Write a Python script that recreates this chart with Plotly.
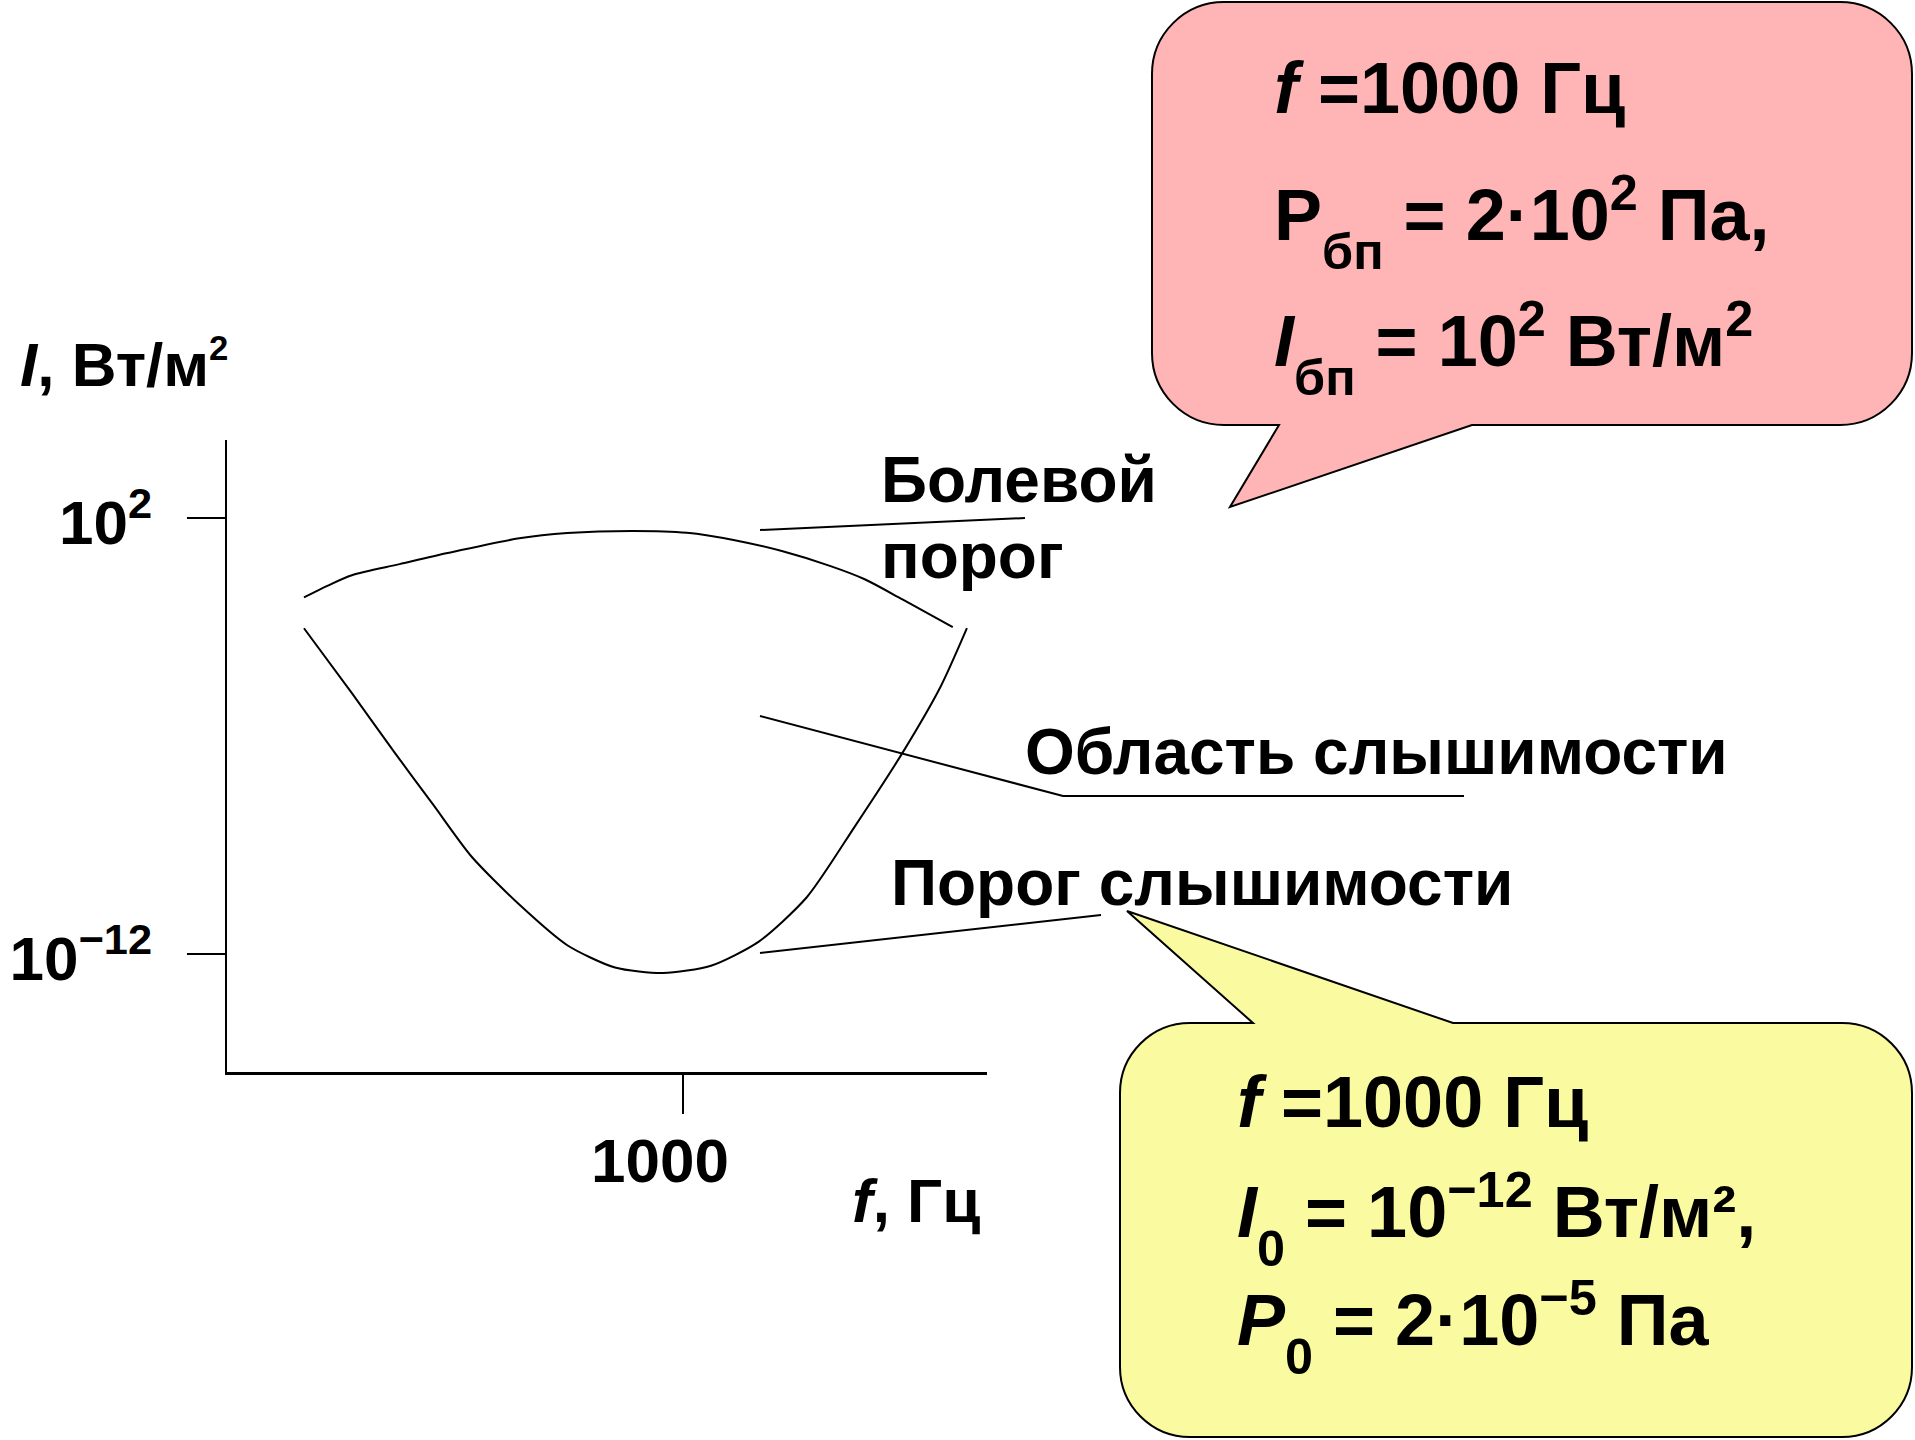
import plotly.graph_objects as go

W, H = 1915, 1440

# ---------------- data ----------------
pain_freq_hz = [20.0, 25.6, 32.8, 53.7, 88.1, 184.6, 303, 590, 1042, 1707, 2800, 4590, 6490, 9640, 16200]
pain_intensity = [0.281, 0.675, 1.45, 3.30, 7.50, 22.2, 32.8, 38.6, 33.7, 19.4, 8.51, 2.85, 1.10, 0.243, 0.0313]

hearing_freq_hz = [20.0, 32.8, 51.1, 75.9, 112.7, 184.6, 303, 496, 814, 1335, 2188, 3590, 5880, 9640, 14320, 18750]
hearing_intensity = [2.89e-2, 2.38e-4, 2.87e-6, 6.22e-8, 1.35e-9, 3.85e-11, 1.91e-12, 3.66e-13,
                     2.44e-13, 4.20e-13, 2.50e-12, 6.62e-11, 1.21e-8, 2.87e-6, 3.95e-4, 2.89e-2]

x_tick_vals = [1000]
x_tick_text = ["1000"]
y_tick_vals = [1e2, 1e-12]
y_tick_text = ["10<sup>2</sup>", "10<sup>−12</sup>"]

SUB = '<sub><span style="baseline-shift:-0.28em">{}</span></sub>'
y_axis_title = '<i>I</i>, Вт/м<sup><span style="font-size:80%">2</span></sup>'
x_axis_title = "<i>f</i>, Гц"
label_pain = ["Болевой", "порог"]
label_region = "Область слышимости"
label_threshold = "Порог слышимости"
pink_lines = ["<i>f</i> =1000 Гц",
              "P" + SUB.format("бп") + " = 2·10<sup>2</sup> Па,",
              "<i>I</i>" + SUB.format("бп") + " = 10<sup>2</sup> Вт/м<sup>2</sup>"]
yellow_lines = ["<i>f</i> =1000 Гц",
                "<i>I</i>" + SUB.format("0") + " = 10<sup>−12</sup> Вт/м²,",
                "<i>P</i>" + SUB.format("0") + " = 2·10<sup>−5</sup> Па"]

# ---------------- helpers (layout positions in page pixels) ----------------
def px(x):
    return x / W


def py(y):
    return 1 - y / H


FONT = "Liberation Sans, Arial, Helvetica, sans-serif"
OFFS = {"plain": 0.3465, "sup": 0.42, "sub": 0.2735, "both": 0.25}


def label(text, x_left, baseline, size, kind="plain"):
    return dict(text="<b>" + text + "</b>", x=px(x_left), y=py(baseline - OFFS[kind] * size),
                xref="paper", yref="paper", xanchor="left", yanchor="middle",
                showarrow=False, borderpad=0,
                font=dict(family=FONT, size=size, color="black"))


def callout_path(L, T, R, B, r, side, b1, b2, tip):
    k = 0.5523 * r

    def p(x, y):
        return f"{px(x):.6f},{py(y):.6f}"

    s = f"M {p(L + r, T)} "
    if side == "top":
        s += f"L {p(b1, T)} L {p(*tip)} L {p(b2, T)} "
    s += f"L {p(R - r, T)} C {p(R - r + k, T)} {p(R, T + r - k)} {p(R, T + r)} "
    s += f"L {p(R, B - r)} C {p(R, B - r + k)} {p(R - r + k, B)} {p(R - r, B)} "
    if side == "bottom":
        s += f"L {p(b2, B)} L {p(*tip)} L {p(b1, B)} "
    s += f"L {p(L + r, B)} C {p(L + r - k, B)} {p(L, B - r + k)} {p(L, B - r)} "
    s += f"L {p(L, T + r)} C {p(L, T + r - k)} {p(L + r - k, T)} {p(L + r, T)} Z"
    return s


# ---------------- figure ----------------
fig = go.Figure()
fig.add_trace(go.Scatter(x=pain_freq_hz, y=pain_intensity, mode="lines",
                         line=dict(color="black", width=2, shape="spline", smoothing=0.8),
                         hoverinfo="skip", showlegend=False))
fig.add_trace(go.Scatter(x=hearing_freq_hz, y=hearing_intensity, mode="lines",
                         line=dict(color="black", width=2, shape="spline", smoothing=0.7),
                         hoverinfo="skip", showlegend=False))

fig.update_layout(
    width=W, height=H, autosize=False,
    margin=dict(l=0, r=0, t=0, b=0, pad=0),
    paper_bgcolor="white", plot_bgcolor="white",
    showlegend=False,
    xaxis=dict(type="log", range=[0.956, 4.363], domain=[px(227), px(987)],
               showline=True, linecolor="black", linewidth=2.5,
               ticks="outside", ticklen=39, tickwidth=1.6, tickcolor="black",
               tickvals=x_tick_vals, ticktext=["<b>" + t + "</b>" for t in x_tick_text],
               tickfont=dict(family=FONT, size=62, color="black"),
               ticklabelshift=-23, ticklabelstandoff=-6,
               showgrid=False, zeroline=False, fixedrange=True),
    yaxis=dict(type="log", range=[-15.79, 4.505], domain=[py(1072), py(440)],
               showline=True, linecolor="black", linewidth=2.5,
               ticks="outside", ticklen=38, tickwidth=1.6, tickcolor="black",
               tickvals=y_tick_vals, ticktext=["<b>" + t + "</b>" for t in y_tick_text],
               tickfont=dict(family=FONT, size=62, color="black"),
               ticklabelstandoff=22, ticklabelshift=4,
               showgrid=False, zeroline=False, fixedrange=True),
)

# callout bubbles
fig.add_shape(type="path", xref="paper", yref="paper",
              path=callout_path(1152, 2, 1912, 425, 72, "bottom", 1279, 1472, (1230, 507)),
              fillcolor="#FFB5B5", line=dict(color="black", width=2), layer="below")
fig.add_shape(type="path", xref="paper", yref="paper",
              path=callout_path(1120, 1023, 1912, 1437, 70, "top", 1253, 1453, (1127, 911)),
              fillcolor="#FAFAA0", line=dict(color="black", width=2), layer="below")

# leader lines
leader = dict(color="black", width=2)
fig.add_shape(type="line", xref="paper", yref="paper", x0=px(760), y0=py(530), x1=px(1025), y1=py(518), line=leader)
fig.add_shape(type="path", xref="paper", yref="paper",
              path=f"M {px(760)},{py(716)} L {px(1063)},{py(796)} L {px(1464)},{py(796)}", line=leader)
fig.add_shape(type="line", xref="paper", yref="paper", x0=px(760), y0=py(953), x1=px(1101), y1=py(915), line=leader)

ann = [
    label(y_axis_title, 19, 390, 62, "sup"),
    label(x_axis_title, 851, 1222, 62),
    label(label_pain[0], 880, 502, 64),
    label(label_pain[1], 880, 578, 64),
    label(label_region, 1024, 774, 64),
    label(label_threshold, 890, 905, 64),
    label(pink_lines[0], 1273, 113, 72),
    label(pink_lines[1], 1273, 240, 72, "both"),
    label(pink_lines[2], 1273, 366, 72, "both"),
    label(yellow_lines[0], 1236, 1127, 72),
    label(yellow_lines[1], 1236, 1237, 72, "both"),
    label(yellow_lines[2], 1236, 1345, 72, "both"),
]
fig.update_layout(annotations=ann)

fig.write_html("out.html", config={"displayModeBar": False, "staticPlot": True},
               post_script="document.body.style.margin='0';document.body.style.overflow='hidden';")
